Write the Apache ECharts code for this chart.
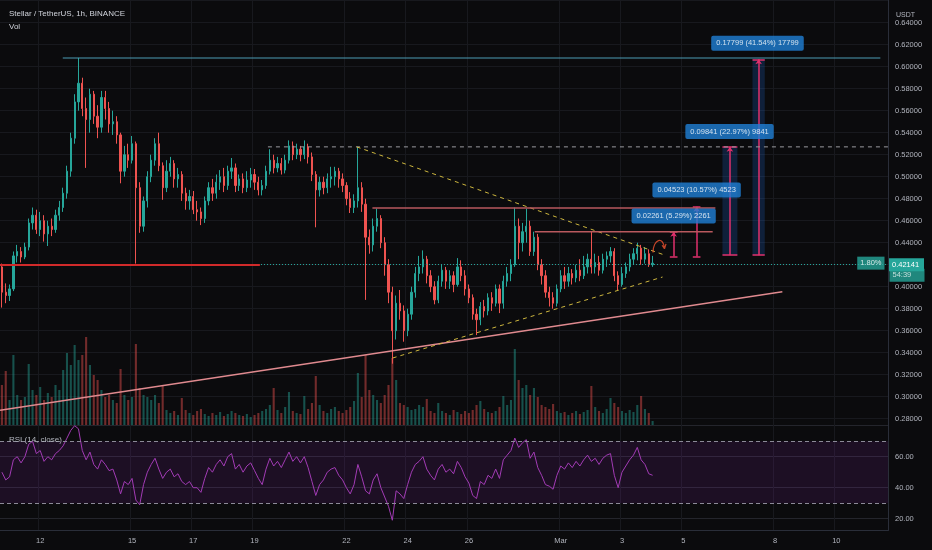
<!DOCTYPE html>
<html>
<head>
<meta charset="utf-8">
<title>Stellar / TetherUS, 1h, BINANCE</title>
<script src="https://cdn.jsdelivr.net/npm/echarts@6/dist/echarts.min.js"></script>
<style>
  html, body { margin: 0; padding: 0; background: #0b0b0d; }
  #chart { width: 932px; height: 550px; }
</style>
</head>
<body>
<div id="chart"></div>
<script>
// 3h slots from Feb 10 18:00, axis runs to Mar 11
const slotCount = 232;
const startTime = Date.UTC(2021, 1, 10, 18);
const tickSlots = [10, 34, 50, 66, 90, 106, 122, 146, 162, 178, 202, 218];
const tickLabels = ['12', '15', '17', '19', '22', '24', '26', 'Mar', '3', '5', '8', '10'];
const priceTicks = [0.28, 0.66, 0.02];

// [open, close, low, high]
const ohlc = [
  [0.418,0.395,0.381,0.421],[0.395,0.392,0.385,0.403],[0.392,0.398,0.387,0.402],[0.398,0.428,0.396,0.432],
  [0.428,0.432,0.422,0.438],[0.432,0.427,0.422,0.436],[0.427,0.436,0.425,0.44],[0.436,0.458,0.433,0.462],
  [0.458,0.465,0.452,0.472],[0.465,0.452,0.448,0.47],[0.452,0.46,0.446,0.468],[0.46,0.448,0.441,0.465],
  [0.448,0.455,0.437,0.46],[0.455,0.452,0.446,0.462],[0.452,0.465,0.449,0.47],[0.465,0.472,0.46,0.478],
  [0.472,0.485,0.468,0.49],[0.485,0.505,0.48,0.51],[0.505,0.535,0.5,0.54],[0.535,0.568,0.53,0.575],
  [0.568,0.585,0.56,0.608],[0.585,0.562,0.555,0.59],[0.562,0.552,0.508,0.572],[0.552,0.575,0.54,0.58],
  [0.575,0.555,0.548,0.578],[0.555,0.545,0.535,0.565],[0.545,0.572,0.54,0.578],[0.572,0.562,0.552,0.578],
  [0.562,0.548,0.54,0.568],[0.548,0.55,0.538,0.56],[0.55,0.538,0.53,0.555],[0.538,0.505,0.494,0.54],
  [0.505,0.52,0.5,0.528],[0.52,0.515,0.508,0.53],[0.515,0.53,0.512,0.537],[0.53,0.49,0.421,0.532],
  [0.49,0.455,0.449,0.495],[0.455,0.478,0.45,0.482],[0.478,0.5,0.472,0.505],[0.5,0.515,0.495,0.52],
  [0.515,0.53,0.51,0.535],[0.53,0.51,0.505,0.54],[0.51,0.49,0.479,0.513],[0.49,0.505,0.486,0.515],
  [0.505,0.512,0.5,0.518],[0.512,0.498,0.49,0.515],[0.498,0.502,0.49,0.508],[0.502,0.485,0.478,0.505],
  [0.485,0.478,0.47,0.49],[0.478,0.482,0.47,0.488],[0.482,0.47,0.466,0.487],[0.47,0.468,0.46,0.478],
  [0.468,0.462,0.456,0.472],[0.462,0.478,0.458,0.482],[0.478,0.49,0.474,0.495],[0.49,0.485,0.478,0.498],
  [0.485,0.495,0.48,0.502],[0.495,0.5,0.488,0.506],[0.5,0.492,0.486,0.508],[0.492,0.505,0.488,0.51],
  [0.505,0.508,0.498,0.517],[0.508,0.492,0.486,0.512],[0.492,0.498,0.487,0.502],[0.498,0.49,0.485,0.503],
  [0.49,0.497,0.486,0.505],[0.497,0.502,0.49,0.508],[0.502,0.495,0.488,0.507],[0.495,0.488,0.483,0.5],
  [0.488,0.492,0.483,0.497],[0.492,0.505,0.489,0.51],[0.505,0.515,0.502,0.525],[0.515,0.508,0.503,0.52],
  [0.508,0.512,0.504,0.518],[0.512,0.506,0.502,0.517],[0.506,0.515,0.503,0.52],[0.515,0.528,0.512,0.533],
  [0.528,0.52,0.515,0.532],[0.52,0.525,0.516,0.53],[0.525,0.52,0.514,0.528],[0.52,0.527,0.516,0.533],
  [0.527,0.518,0.512,0.53],[0.518,0.502,0.496,0.522],[0.502,0.488,0.454,0.505],[0.488,0.495,0.482,0.5],
  [0.495,0.49,0.484,0.5],[0.49,0.498,0.485,0.503],[0.498,0.5,0.49,0.509],[0.5,0.505,0.492,0.509],
  [0.505,0.498,0.49,0.508],[0.498,0.492,0.486,0.503],[0.492,0.48,0.474,0.495],[0.48,0.472,0.467,0.486],
  [0.472,0.478,0.467,0.484],[0.478,0.49,0.472,0.527],[0.49,0.475,0.468,0.495],[0.475,0.445,0.388,0.48],
  [0.445,0.438,0.43,0.452],[0.438,0.455,0.432,0.462],[0.455,0.462,0.45,0.471],[0.462,0.44,0.435,0.465],
  [0.44,0.42,0.41,0.445],[0.42,0.395,0.385,0.425],[0.395,0.36,0.33,0.4],[0.36,0.385,0.352,0.392],
  [0.385,0.378,0.37,0.397],[0.378,0.36,0.35,0.383],[0.36,0.375,0.355,0.38],[0.375,0.395,0.37,0.4],
  [0.395,0.412,0.39,0.418],[0.412,0.418,0.405,0.428],[0.418,0.425,0.412,0.433],[0.425,0.41,0.403,0.428],
  [0.41,0.4,0.395,0.415],[0.4,0.388,0.384,0.405],[0.388,0.405,0.385,0.41],[0.405,0.415,0.4,0.42],
  [0.415,0.405,0.398,0.418],[0.405,0.41,0.398,0.415],[0.41,0.402,0.395,0.414],[0.402,0.418,0.4,0.426],
  [0.418,0.41,0.405,0.424],[0.41,0.398,0.392,0.415],[0.398,0.39,0.385,0.402],[0.39,0.375,0.37,0.393],
  [0.375,0.37,0.356,0.38],[0.37,0.382,0.365,0.386],[0.382,0.378,0.372,0.388],[0.378,0.39,0.374,0.394],
  [0.39,0.385,0.378,0.395],[0.385,0.398,0.382,0.402],[0.398,0.385,0.376,0.402],[0.385,0.405,0.38,0.41],
  [0.405,0.412,0.4,0.418],[0.412,0.42,0.405,0.425],[0.42,0.455,0.418,0.472],[0.455,0.44,0.425,0.462],
  [0.44,0.45,0.432,0.458],[0.45,0.455,0.44,0.471],[0.455,0.432,0.428,0.46],[0.432,0.445,0.428,0.45],
  [0.445,0.42,0.415,0.448],[0.42,0.41,0.402,0.425],[0.41,0.395,0.39,0.415],[0.395,0.39,0.382,0.4],
  [0.39,0.385,0.38,0.395],[0.385,0.398,0.382,0.402],[0.398,0.41,0.395,0.415],[0.41,0.405,0.398,0.418],
  [0.405,0.412,0.4,0.418],[0.412,0.408,0.402,0.416],[0.408,0.415,0.404,0.42],[0.415,0.41,0.405,0.425],
  [0.41,0.418,0.407,0.428],[0.418,0.425,0.412,0.43],[0.425,0.418,0.412,0.45],[0.418,0.422,0.412,0.43],
  [0.422,0.415,0.41,0.428],[0.415,0.425,0.412,0.43],[0.425,0.428,0.418,0.432],[0.428,0.432,0.422,0.436],
  [0.432,0.41,0.405,0.435],[0.41,0.402,0.397,0.414],[0.402,0.412,0.4,0.418],[0.412,0.418,0.408,0.422],
  [0.418,0.425,0.414,0.43],[0.425,0.43,0.42,0.435],[0.43,0.435,0.424,0.44],[0.435,0.425,0.42,0.438],
  [0.425,0.43,0.421,0.436],[0.43,0.42,0.418,0.434],[0.42,0.42141,0.418,0.428]
];

const volumes = [
  40, 54, 25, 70, 30, 25, 28, 61, 35, 30,
  38, 25, 32, 28, 40, 35, 55, 72, 60, 80,
  65, 70, 88, 60, 50, 45, 35, 28, 30, 25,
  22, 56, 30, 25, 28, 81, 37, 30, 28, 25,
  30, 22, 39, 15, 12, 14, 10, 27, 15, 12,
  10, 14, 16, 11, 9, 12, 10, 13, 9, 11,
  14, 12, 10, 9, 11, 8, 10, 12, 14, 16,
  20, 37, 15, 12, 18, 33, 14, 12, 11, 29,
  16, 22, 49, 20, 14, 12, 16, 18, 14, 12,
  15, 18, 24, 52, 28, 70, 35, 30, 25, 22,
  30, 40, 67, 45, 22, 20, 18, 15, 16, 20,
  18, 26, 14, 12, 22, 14, 12, 10, 15, 13,
  11, 14, 12, 15, 20, 24, 16, 13, 12, 14,
  18, 29, 20, 25, 76, 45, 37, 40, 30, 37,
  28, 20, 18, 16, 21, 14, 12, 13, 10, 12,
  14, 11, 13, 15, 39, 18, 14, 12, 16, 27,
  22, 18, 14, 12, 15, 13, 20, 29, 16, 12,
  4
];

const rsi = [
  50, 45, 47, 58, 60, 56, 60, 68, 70, 62,
  64, 57, 60, 58, 62, 64, 67, 72, 77, 80,
  78, 64, 58, 63, 55, 52, 58, 55, 51, 52,
  45, 36, 44, 42, 46, 32, 29, 42, 50, 55,
  59, 52, 46, 50, 52, 47, 49, 44, 42, 44,
  40, 40, 37, 46, 53, 50, 55, 58, 54, 60,
  62, 52, 55, 50, 54, 56, 51, 46, 42, 52,
  59, 54, 57, 53, 58, 63, 57, 60, 56, 60,
  53, 44, 35, 42, 45, 50, 52, 53, 48, 45,
  40, 36, 42, 55, 47, 38, 36, 45, 49, 40,
  34, 28, 19, 38, 36, 33, 42, 50, 55, 57,
  60, 52, 48, 45, 52, 55, 50, 52, 49, 57,
  53, 47, 43, 35, 33, 44, 42, 48, 46, 52,
  46, 58, 61, 64, 72, 66, 69, 71, 59, 63,
  53, 48, 42, 41, 39, 48, 54, 52, 56, 53,
  57, 54, 58, 61, 57, 59, 55, 59, 61, 62,
  48, 40, 50, 54, 58, 61, 66, 58, 55, 49,
  48.01
];
const rsiLevels = [30, 70];

// drawings, [slot, price]
const lastPrice = 0.42141;
const markedLevel = 0.52712;
const topLine = [[15.9, 0.6079], [229.5, 0.6079]];
const supportLine = [[-0.5, 0.4197], [67.4, 0.4197]];
const markedLine = [[69.5, 0.52712], [231.5, 0.52712]];
const fallLine = [[92.7, 0.5271], [173.1, 0.4288]];
const riseLine = [[102.1, 0.3352], [172.6, 0.4088]];
const longTrend = [[-0.5, 0.2876], [203.9, 0.3955]];
const rangeTop = [[96.8, 0.4715], [186.4, 0.4715]];
const rangeMid = [[139.2, 0.45], [185.7, 0.45]];
// [slot, from, to, halfWidth]
const moves = [
  [175.5, 0.4274, 0.45, 1],
  [181.5, 0.4274, 0.4726, 1],
  [190.2, 0.4287, 0.52712, 1.95],
  [197.7, 0.4287, 0.6067, 1.6]
];
const moveLabels = ['0.02261 (5.29%) 2261', '0.04523 (10.57%) 4523', '0.09841 (22.97%) 9841', '0.17799 (41.54%) 17799'];
const moveLabelAt = [[175.5, 0.4643], [181.5, 0.4879], [190.1, 0.5411], [197.4, 0.6213]];
const curlAt = [171.8, 0.4366];

const categories = [];
for (let i = 0; i < slotCount; i++) {
  let d = new Date(startTime + i * 3 * 3600 * 1000);
  categories.push((d.getUTCMonth() + 1) + '/' + d.getUTCDate() + ' ' + String(d.getUTCHours()).padStart(2, '0') + ':00');
}

const upColor = '#26a69a';
const downColor = '#ef5350';
const font = 'Liberation Sans';
const axisText = '#b2b5be';
const gridColor = '#18191e';

function drawing(points, color, width, dash) {
  return {
    type: 'line', xAxisIndex: 4, yAxisIndex: 0, data: points,
    symbol: 'none', silent: true, z: 5, animation: false,
    lineStyle: {color: color, width: width, type: dash || 'solid'}
  };
}

let moveLines = [];
let moveCaps = [];
let moveAreas = [];
moves.forEach(m => {
  moveLines.push([{coord: [m[0], m[1]], symbol: 'none'}, {coord: [m[0], m[2]], symbol: 'arrow'}]);
  moveCaps.push([{coord: [m[0] - m[3], m[1]], symbol: 'none'}, {coord: [m[0] + m[3], m[1]], symbol: 'none'}]);
  moveCaps.push([{coord: [m[0] - m[3], m[2]], symbol: 'none'}, {coord: [m[0] + m[3], m[2]], symbol: 'none'}]);
  if (m[3] > 1) moveAreas.push([{coord: [m[0] - m[3], m[1]]}, {coord: [m[0] + m[3], m[2]]}]);
});

const chart = echarts.init(document.getElementById('chart'));

let option = {
  backgroundColor: '#0b0b0d',
  animation: false,
  textStyle: {fontFamily: font},
  title: [
    {text: 'Stellar / TetherUS, 1h, BINANCE', left: 4, top: 5, textStyle: {color: '#d1d4dc', fontSize: 8, fontWeight: 'normal', fontFamily: font}},
    {text: 'Vol', left: 4, top: 18, textStyle: {color: '#d1d4dc', fontSize: 8, fontWeight: 'normal', fontFamily: font}},
    {text: 'RSI (14, close)', left: 4, top: 431, textStyle: {color: '#b2b5be', fontSize: 8, fontWeight: 'normal', fontFamily: font}},
    {text: 'USDT', right: 12, top: 7, textStyle: {color: '#b2b5be', fontSize: 7, fontWeight: 'normal', fontFamily: font}}
  ],
  grid: [
    {left: 0, right: 44, top: 0.7, height: 418},      // price
    {left: 0, right: 44, top: 300, height: 125},      // volume
    {left: 0, right: 44, top: 425.7, height: 93},     // rsi
    {left: 0, right: 44, top: 0, bottom: 19.5}        // background + time axis
  ],
  xAxis: [
    {type: 'category', gridIndex: 0, data: categories, show: false},
    {type: 'category', gridIndex: 1, data: categories, show: false},
    {type: 'category', gridIndex: 2, data: categories, show: false},
    {
      type: 'category', gridIndex: 3, data: categories,
      axisLine: {lineStyle: {color: '#2a2e39'}},
      axisTick: {show: false},
      axisLabel: {
        color: axisText, fontSize: 7.5, margin: 6,
        interval: (idx) => tickSlots.indexOf(idx) >= 0,
        formatter: (val, idx) => tickLabels[tickSlots.indexOf(idx)] || ''
      },
      splitLine: {show: true, interval: (idx) => tickSlots.indexOf(idx) >= 0, lineStyle: {color: gridColor}}
    },
    {type: 'value', gridIndex: 0, min: -0.5, max: slotCount - 0.5, show: false}
  ],
  yAxis: [
    {
      type: 'value', gridIndex: 0, position: 'right', scale: true,
      min: priceTicks[0], max: priceTicks[1], interval: priceTicks[2],
      axisLine: {show: false}, axisTick: {show: false},
      axisLabel: {color: axisText, fontSize: 7.5, margin: 7, formatter: v => v > 0.65 ? '' : v.toFixed(5)},
      splitLine: {lineStyle: {color: gridColor}}
    },
    {type: 'value', gridIndex: 1, min: 0, max: 125, show: false},
    {
      type: 'value', gridIndex: 2, position: 'right', min: 20, max: 80, interval: 20,
      axisLine: {show: false}, axisTick: {show: false},
      axisLabel: {color: axisText, fontSize: 7.5, margin: 7, formatter: v => v >= 80 ? '' : v.toFixed(2)},
      splitLine: {lineStyle: {color: '#24252c'}}
    },
    {
      type: 'value', gridIndex: 3, position: 'right',
      axisLine: {show: true, lineStyle: {color: '#2a2e39'}},
      axisTick: {show: false}, axisLabel: {show: false}, splitLine: {show: false}
    }
  ],
  series: [
    {
      type: 'candlestick', name: 'XLMUSDT', xAxisIndex: 0, yAxisIndex: 0,
      data: ohlc, barWidth: '45%', z: 3,
      itemStyle: {color: upColor, color0: downColor, borderColor: upColor, borderColor0: downColor, borderWidth: 1},
      markLine: {
        silent: true, symbol: 'none',
        data: [
          {
            yAxis: lastPrice,
            lineStyle: {color: upColor, type: [1, 2], width: 1},
            label: {position: 'end', distance: 1, formatter: '0.42141', color: '#fff', backgroundColor: upColor, padding: [3, 3, 2, 3], width: 29, fontSize: 7.5}
          },
          {
            yAxis: markedLevel,
            lineStyle: {opacity: 0},
            label: {position: 'end', distance: 1, formatter: '0.52712', color: '#131313', backgroundColor: '#a9d37d', padding: [3, 3, 2, 3], width: 29, fontSize: 7.5}
          }
        ]
      }
    },
    {
      type: 'bar', name: 'Vol', xAxisIndex: 1, yAxisIndex: 1, barWidth: '55%',
      data: volumes.map((v, i) => ({
        value: v,
        itemStyle: {color: ohlc[i][1] >= ohlc[i][0] ? 'rgba(38,166,154,0.45)' : 'rgba(239,83,80,0.45)'}
      })),
      markLine: {
        silent: true, symbol: 'none',
        data: [{
          yAxis: volumes[volumes.length - 1],
          lineStyle: {opacity: 0},
          label: {position: 'end', distance: 1, formatter: '500.252K', color: '#fff', backgroundColor: upColor, padding: [3, 3, 2, 3], fontSize: 7.5}
        }]
      }
    },
    {
      type: 'line', name: 'RSI', xAxisIndex: 2, yAxisIndex: 2, data: rsi,
      symbol: 'none', clip: false, z: 4,
      lineStyle: {color: '#a23bb5', width: 1},
      markArea: {
        silent: true,
        itemStyle: {color: 'rgba(126,40,160,0.16)'},
        data: [[{yAxis: rsiLevels[0]}, {yAxis: rsiLevels[1]}]]
      },
      markLine: {
        silent: true, symbol: 'none',
        data: [
          {yAxis: rsiLevels[1], lineStyle: {color: '#8c8a98', type: [4, 3], width: 1}, label: {show: false}},
          {yAxis: rsiLevels[0], lineStyle: {color: '#8c8a98', type: [4, 3], width: 1}, label: {show: false}},
          {
            yAxis: rsi[rsi.length - 1], lineStyle: {opacity: 0},
            label: {position: 'end', distance: 1, formatter: '48.01', color: '#fff', backgroundColor: '#9c27b0', padding: [3, 3, 2, 3], fontSize: 7.5}
          }
        ]
      }
    },
    drawing(longTrend, '#e08a8f', 1.5),
    drawing(topLine, '#4c9bb4', 1.2),
    drawing(supportLine, '#d12a2a', 2),
    drawing(markedLine, '#9a9aa0', 1, [4, 4]),
    drawing(fallLine, '#cdb63e', 1, [4, 4]),
    drawing(riseLine, '#cdb63e', 1, [4, 4]),
    drawing(rangeTop, '#b9595e', 1.5),
    drawing(rangeMid, '#b9595e', 1.5),
    {
      type: 'line', name: 'moves', xAxisIndex: 4, yAxisIndex: 0, data: [], z: 6, silent: true,
      markArea: {silent: true, itemStyle: {color: 'rgba(33,110,220,0.22)'}, data: moveAreas},
      markLine: {
        silent: true, symbolSize: 5, label: {show: false},
        lineStyle: {color: '#e0306c', width: 1.5, type: 'solid'},
        data: moveLines.concat(moveCaps)
      }
    },
    {
      type: 'scatter', name: 'moveLabels', xAxisIndex: 4, yAxisIndex: 0, symbolSize: 1, z: 10, silent: true, clip: false,
      itemStyle: {color: 'rgba(0,0,0,0)'},
      data: moveLabelAt.map((p, i) => ({value: p, label: {formatter: moveLabels[i]}})),
      label: {show: true, position: 'inside', color: '#fff', backgroundColor: '#1f7fd6', borderRadius: 2, padding: [4, 5, 3, 5], fontSize: 7.5}
    },
    {
      type: 'scatter', name: 'curl', xAxisIndex: 4, yAxisIndex: 0, z: 10, silent: true,
      symbol: 'path://M1,14 C1,3 15,0 16,11 M16,11 L13,8 M16,11 L18,7',
      symbolSize: [13, 12],
      itemStyle: {color: 'rgba(0,0,0,0)', borderColor: '#f0522f', borderWidth: 1.2},
      data: [curlAt]
    },
    {
      type: 'scatter', name: 'badges', xAxisIndex: 4, yAxisIndex: 0, symbolSize: 1, z: 10, silent: true, clip: false,
      itemStyle: {color: 'rgba(0,0,0,0)'},
      data: [
        {value: [slotCount - 0.5, lastPrice], label: {show: true, formatter: '1.80%', position: 'left', distance: 3, color: '#fff', backgroundColor: upColor, padding: [3, 3, 2, 3], fontSize: 7.5}},
        {value: [slotCount - 0.5, lastPrice], label: {show: true, formatter: '54:39', position: 'right', distance: 1, offset: [0, 12], color: '#e8f5f3', backgroundColor: upColor, padding: [2, 3, 3, 3], width: 29, fontSize: 7.5}}
      ]
    }
  ]
};

chart.setOption(option);
</script>
</body>
</html>
